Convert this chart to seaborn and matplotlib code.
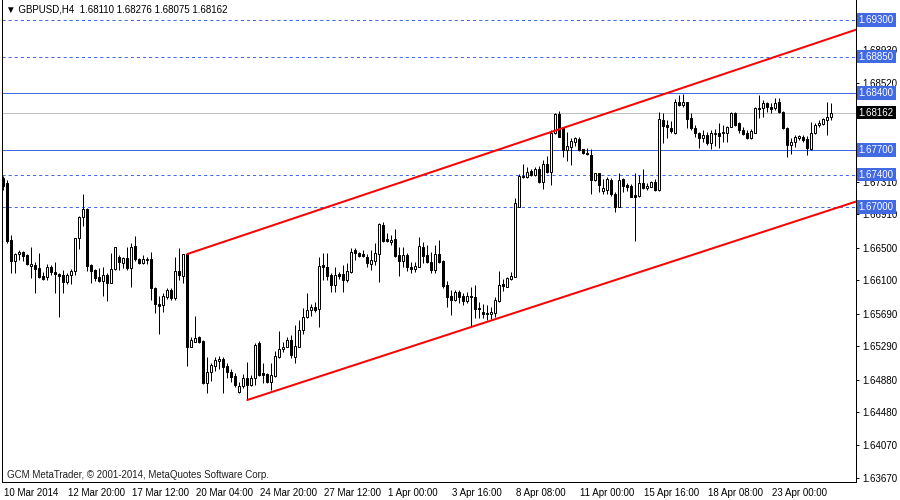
import numpy as np
import pandas as pd
import matplotlib
matplotlib.use('Agg')
import matplotlib.pyplot as plt
import matplotlib.transforms as mtrans
import seaborn as sns

# ---- data: GBPUSD H4 candles ----
OPEN = [1.67358, 1.67296, 1.66595, 1.66338, 1.66423, 1.66447, 1.66411, 1.66276, 1.66289, 1.66252,
        1.66153, 1.66141, 1.66264, 1.66202, 1.66178, 1.66166, 1.66079, 1.66166, 1.66215, 1.66620,
        1.66878, 1.66976, 1.66289, 1.66227, 1.66141, 1.66092, 1.66166, 1.66067, 1.66239, 1.66386,
        1.66313, 1.66374, 1.66252, 1.66521, 1.66362, 1.66313, 1.66350, 1.66362, 1.66006, 1.65809,
        1.65796, 1.65895, 1.65981, 1.65883, 1.66215, 1.66153, 1.66423, 1.65280, 1.65341, 1.65403,
        1.65354, 1.64838, 1.64973, 1.65047, 1.65109, 1.65133, 1.65047, 1.64973, 1.64924, 1.64727,
        1.64801, 1.64900, 1.64814, 1.64900, 1.65329, 1.64961, 1.64949, 1.64851, 1.64924, 1.65157,
        1.65256, 1.65280, 1.65366, 1.65157, 1.65280, 1.65489, 1.65649, 1.65735, 1.65772, 1.65747,
        1.66289, 1.66264, 1.66166, 1.66043, 1.66178, 1.66178, 1.66104, 1.66202, 1.66472, 1.66435,
        1.66423, 1.66386, 1.66301, 1.66338, 1.66423, 1.66779, 1.66607, 1.66570, 1.66607, 1.66411,
        1.66338, 1.66411, 1.66264, 1.66239, 1.66264, 1.66509, 1.66411, 1.66325, 1.66227, 1.66423,
        1.66338, 1.66043, 1.65907, 1.65858, 1.65956, 1.65907, 1.65846, 1.65907, 1.65895, 1.65760,
        1.65710, 1.65698, 1.65686, 1.65698, 1.65846, 1.66055, 1.66018, 1.66116, 1.66141, 1.67001,
        1.67382, 1.67370, 1.67444, 1.67395, 1.67468, 1.67309, 1.67530, 1.67431, 1.67910, 1.68144,
        1.67972, 1.67702, 1.67739, 1.67800, 1.67837, 1.67714, 1.67665, 1.67640, 1.67333, 1.67419,
        1.67198, 1.67210, 1.67333, 1.67161, 1.67001, 1.67346, 1.67272, 1.67259, 1.67149, 1.67137,
        1.67296, 1.67235, 1.67247, 1.67309, 1.67210, 1.68070, 1.68009, 1.67972, 1.67910, 1.68291,
        1.68255, 1.68291, 1.68095, 1.67972, 1.67910, 1.67849, 1.67886, 1.67788, 1.67898, 1.67910,
        1.67910, 1.67910, 1.67984, 1.68156, 1.68033, 1.67947, 1.67910, 1.67849, 1.67910, 1.68218,
        1.68218, 1.68279, 1.68230, 1.68218, 1.68291, 1.68168, 1.67972, 1.67763, 1.67800, 1.67849,
        1.67861, 1.67837, 1.67714, 1.67910, 1.68009, 1.68021, 1.68070, 1.68110]
HIGH = [1.67382, 1.67333, 1.66657, 1.66435, 1.66472, 1.66460, 1.66423, 1.66509, 1.66325, 1.66435,
        1.66202, 1.66301, 1.66289, 1.66325, 1.66190, 1.66227, 1.66190, 1.66239, 1.66620, 1.66890,
        1.67161, 1.66989, 1.66301, 1.66239, 1.66252, 1.66264, 1.66190, 1.66435, 1.66509, 1.66411,
        1.66386, 1.66509, 1.66558, 1.66644, 1.66374, 1.66411, 1.66386, 1.66447, 1.66018, 1.65907,
        1.65944, 1.66006, 1.66006, 1.66386, 1.66497, 1.66423, 1.66423, 1.65403, 1.65661, 1.65415,
        1.65366, 1.65157, 1.65084, 1.65157, 1.65170, 1.65157, 1.65084, 1.65010, 1.64961, 1.64851,
        1.64949, 1.65096, 1.64937, 1.65329, 1.65354, 1.65084, 1.64961, 1.65084, 1.65231, 1.65477,
        1.65341, 1.65403, 1.65428, 1.65551, 1.65612, 1.65760, 1.65944, 1.65809, 1.65833, 1.66386,
        1.66435, 1.66435, 1.66190, 1.66264, 1.66202, 1.66289, 1.66313, 1.66497, 1.66497, 1.66447,
        1.66472, 1.66423, 1.66472, 1.66558, 1.66804, 1.66816, 1.66681, 1.66657, 1.66730, 1.66509,
        1.66509, 1.66435, 1.66325, 1.66325, 1.66632, 1.66570, 1.66534, 1.66447, 1.66534, 1.66595,
        1.66350, 1.66092, 1.65981, 1.65981, 1.65981, 1.65944, 1.65956, 1.66018, 1.66043, 1.65833,
        1.65809, 1.65796, 1.65772, 1.65895, 1.66215, 1.66116, 1.66141, 1.66202, 1.67111, 1.67407,
        1.67530, 1.67493, 1.67468, 1.67493, 1.67505, 1.67579, 1.67628, 1.67947, 1.68156, 1.68181,
        1.67984, 1.67923, 1.67849, 1.67861, 1.67861, 1.67714, 1.67726, 1.67714, 1.67419, 1.67419,
        1.67346, 1.67370, 1.67358, 1.67186, 1.67419, 1.67358, 1.67296, 1.67284, 1.67419, 1.67395,
        1.67468, 1.67296, 1.67321, 1.67346, 1.68168, 1.68156, 1.68070, 1.68058, 1.68328, 1.68377,
        1.68390, 1.68291, 1.68156, 1.68009, 1.67923, 1.67947, 1.67923, 1.67947, 1.67960, 1.68033,
        1.68009, 1.67996, 1.68168, 1.68168, 1.68046, 1.67984, 1.67947, 1.67960, 1.68230, 1.68377,
        1.68316, 1.68291, 1.68279, 1.68340, 1.68340, 1.68181, 1.67984, 1.67849, 1.67886, 1.67886,
        1.67886, 1.67874, 1.68046, 1.68033, 1.68070, 1.68095, 1.68291, 1.68276]
LOW = [1.67210, 1.66558, 1.66190, 1.66190, 1.66350, 1.66338, 1.66289, 1.66129, 1.65944, 1.66129,
       1.66104, 1.66104, 1.66166, 1.65944, 1.65649, 1.65944, 1.66055, 1.66055, 1.66166, 1.66484,
       1.66767, 1.66215, 1.66067, 1.66092, 1.66079, 1.65907, 1.65846, 1.66067, 1.66227, 1.66227,
       1.66252, 1.66227, 1.66018, 1.66338, 1.66301, 1.66301, 1.66301, 1.65858, 1.65698, 1.65440,
       1.65710, 1.65870, 1.65858, 1.65858, 1.66104, 1.66067, 1.65047, 1.65280, 1.65341, 1.65329,
       1.64826, 1.64715, 1.64863, 1.64986, 1.65010, 1.64715, 1.64900, 1.64851, 1.64789, 1.64715,
       1.64777, 1.64629, 1.64801, 1.64814, 1.64924, 1.64838, 1.64838, 1.64752, 1.64912, 1.65145,
       1.65219, 1.65280, 1.65145, 1.65084, 1.65280, 1.65440, 1.65637, 1.65661, 1.65710, 1.65526,
       1.66104, 1.66104, 1.65956, 1.65956, 1.66116, 1.65956, 1.66079, 1.66190, 1.66350, 1.66386,
       1.66386, 1.66264, 1.66227, 1.66289, 1.66079, 1.66570, 1.66570, 1.66534, 1.66386, 1.66153,
       1.66264, 1.66215, 1.66190, 1.66202, 1.66264, 1.66313, 1.66313, 1.66190, 1.66190, 1.66313,
       1.66006, 1.65772, 1.65673, 1.65846, 1.65821, 1.65796, 1.65821, 1.65526, 1.65637, 1.65637,
       1.65637, 1.65612, 1.65624, 1.65649, 1.65833, 1.65969, 1.66018, 1.66104, 1.66141, 1.67001,
       1.67358, 1.67358, 1.67382, 1.67382, 1.67296, 1.67222, 1.67419, 1.67272, 1.67898, 1.67861,
       1.67616, 1.67566, 1.67517, 1.67751, 1.67689, 1.67653, 1.67640, 1.67161, 1.67321, 1.67186,
       1.67161, 1.67161, 1.67137, 1.66939, 1.67001, 1.67186, 1.67198, 1.67124, 1.66583, 1.67124,
       1.67222, 1.67210, 1.67247, 1.67198, 1.67198, 1.67788, 1.67849, 1.67910, 1.67898, 1.68242,
       1.68230, 1.67972, 1.67947, 1.67861, 1.67726, 1.67800, 1.67763, 1.67714, 1.67751, 1.67726,
       1.67800, 1.67800, 1.67984, 1.67996, 1.67910, 1.67886, 1.67837, 1.67837, 1.67910, 1.68095,
       1.68107, 1.68168, 1.68156, 1.68193, 1.68156, 1.67960, 1.67616, 1.67653, 1.67739, 1.67824,
       1.67800, 1.67640, 1.67702, 1.67898, 1.67984, 1.68009, 1.67886, 1.68075]
CLOSE = [1.67259, 1.66583, 1.66338, 1.66423, 1.66447, 1.66398, 1.66301, 1.66301, 1.66239, 1.66141,
         1.66116, 1.66264, 1.66202, 1.66178, 1.66153, 1.66079, 1.66166, 1.66215, 1.66620, 1.66878,
         1.66976, 1.66276, 1.66215, 1.66129, 1.66092, 1.66166, 1.66067, 1.66239, 1.66509, 1.66325,
         1.66374, 1.66252, 1.66509, 1.66362, 1.66313, 1.66362, 1.66362, 1.66006, 1.65809, 1.65784,
         1.65907, 1.65981, 1.65883, 1.66215, 1.66166, 1.66423, 1.65280, 1.65366, 1.65391, 1.65341,
         1.64838, 1.64973, 1.65059, 1.65121, 1.65133, 1.65035, 1.64973, 1.64912, 1.64814, 1.64801,
         1.64900, 1.64814, 1.64900, 1.65305, 1.64937, 1.64937, 1.64851, 1.64937, 1.65170, 1.65256,
         1.65280, 1.65366, 1.65182, 1.65292, 1.65489, 1.65649, 1.65735, 1.65772, 1.65735, 1.66276,
         1.66264, 1.66153, 1.66043, 1.66166, 1.66153, 1.66104, 1.66215, 1.66447, 1.66435, 1.66398,
         1.66398, 1.66313, 1.66350, 1.66435, 1.66792, 1.66583, 1.66583, 1.66595, 1.66398, 1.66338,
         1.66411, 1.66264, 1.66239, 1.66276, 1.66521, 1.66398, 1.66325, 1.66227, 1.66423, 1.66325,
         1.66030, 1.65895, 1.65858, 1.65956, 1.65895, 1.65846, 1.65907, 1.65895, 1.65747, 1.65747,
         1.65686, 1.65686, 1.65710, 1.65858, 1.66043, 1.66030, 1.66129, 1.66153, 1.67050, 1.67382,
         1.67370, 1.67431, 1.67395, 1.67468, 1.67309, 1.67530, 1.67431, 1.67910, 1.68144, 1.67861,
         1.67702, 1.67751, 1.67812, 1.67849, 1.67702, 1.67665, 1.67653, 1.67333, 1.67419, 1.67272,
         1.67235, 1.67346, 1.67161, 1.67001, 1.67333, 1.67259, 1.67247, 1.67124, 1.67124, 1.67296,
         1.67235, 1.67259, 1.67309, 1.67210, 1.68082, 1.67996, 1.67984, 1.67935, 1.68291, 1.68255,
         1.68291, 1.68082, 1.67972, 1.67910, 1.67849, 1.67886, 1.67788, 1.67910, 1.67910, 1.67874,
         1.67923, 1.67984, 1.68156, 1.68009, 1.67947, 1.67898, 1.67849, 1.67935, 1.68218, 1.68205,
         1.68279, 1.68230, 1.68205, 1.68279, 1.68168, 1.67972, 1.67763, 1.67800, 1.67861, 1.67874,
         1.67824, 1.67726, 1.67910, 1.68009, 1.68033, 1.68082, 1.68107, 1.68162]

# channel trend lines: (bar index, price) anchors
UPPER_BARS, UPPER_PRICES = [46, 214], [1.66423, 1.69194]
LOWER_BARS, LOWER_PRICES = [61, 214], [1.64629, 1.67081]

# horizontal levels
LEVELS = [1.69300, 1.68850, 1.68400, 1.67700, 1.67400, 1.67000]
LEVEL_DASHED = [True, True, False, False, True, True]

# axes (the scale values hidden under the level boxes are left out)
PRICE_TICKS = [1.63670, 1.64070, 1.64480, 1.64880, 1.65290, 1.65690, 1.66100,
               1.66500, 1.66910, 1.67310, 1.68520, 1.68930]
TIME_BARS = [0, 16, 32, 48, 64, 80, 96, 112, 128, 144, 160, 176, 192]
TIME_LABELS = ['10 Mar 2014', '12 Mar 20:00', '17 Mar 12:00', '20 Mar 04:00', '24 Mar 20:00',
               '27 Mar 12:00', '1 Apr 00:00', '3 Apr 16:00', '8 Apr 08:00', '11 Apr 00:00',
               '15 Apr 16:00', '18 Apr 08:00', '23 Apr 00:00']

df = pd.DataFrame({'open': OPEN, 'high': HIGH, 'low': LOW, 'close': CLOSE})
df['bar'] = np.arange(len(df))
df['bull'] = df['close'] >= df['open']

# ---- style ----
BLUE, RED, SILVER = '#4169E1', '#FF0000', '#C0C0C0'
FS = 7
sns.set_style('white')
plt.rcParams['font.family'] = ['Liberation Sans', 'DejaVu Sans']
plt.rcParams['lines.scale_dashes'] = False
PX = 0.72  # one pixel in points at dpi 100

fig = plt.figure(figsize=(9, 5), dpi=100)
ax = fig.add_axes([2/900, 18/500, 854/900, 482/500])
ax.set_xlim(-0.325, 213.175)
ax.set_ylim(1.63621, 1.69545)

# levels
for lv, dashed in zip(LEVELS, LEVEL_DASHED):
    ax.axhline(lv, color=BLUE, lw=PX, ls=(0, (2.2, 2.2)) if dashed else '-', zorder=1)
ax.axhline(df['close'].iloc[-1], color=SILVER, lw=PX, zorder=1)

# candles
ax.vlines(df['bar'], df['low'], df['high'], color='black', lw=PX, zorder=2)
body_lo = df[['open', 'close']].min(axis=1)
body_h = (df['close'] - df['open']).abs().clip(lower=1e-6)
ax.bar(df['bar'], body_h, bottom=body_lo, width=0.55,
       color=np.where(df['bull'], 'white', 'black'), edgecolor='black', linewidth=PX, zorder=3)

# channel
sns.lineplot(x=UPPER_BARS, y=UPPER_PRICES, color=RED, lw=2 * PX, ax=ax, zorder=4)
sns.lineplot(x=LOWER_BARS, y=LOWER_PRICES, color=RED, lw=2 * PX, ax=ax, zorder=4)

# axes frame + ticks
for s in ['left', 'right', 'bottom']:
    ax.spines[s].set_color('black')
    ax.spines[s].set_linewidth(PX)
ax.spines['top'].set_visible(False)
ax.yaxis.tick_right()
ax.set_yticks(PRICE_TICKS)
ax.set_yticklabels([f'{t:.5f}' for t in PRICE_TICKS])
ax.set_xticks(TIME_BARS)
ax.set_xticklabels(TIME_LABELS, ha='left')
ax.tick_params(axis='both', direction='out', length=2.5, width=PX, color='black',
               labelsize=FS, labelcolor='black', pad=2)
shift = mtrans.ScaledTranslation(1/100, 0, fig.dpi_scale_trans)
for lab in ax.get_xticklabels():
    lab.set_transform(lab.get_transform() + shift)
ax.set_xlabel('')
ax.set_ylabel('')

# price boxes on the right scale
bt = mtrans.blended_transform_factory(ax.transAxes, ax.transData)
for lv in LEVELS:
    ax.text(1.003, lv, f'{lv:.5f}', transform=bt, ha='left', va='center', fontsize=FS,
            color='white', zorder=6, clip_on=False,
            bbox=dict(boxstyle='square,pad=0.2', fc=BLUE, ec='none'))
ax.text(1.003, df['close'].iloc[-1], f"{df['close'].iloc[-1]:.5f}", transform=bt, ha='left',
        va='center', fontsize=FS, color='white', zorder=6, clip_on=False,
        bbox=dict(boxstyle='square,pad=0.2', fc='black', ec='none'))

# header and footer text
last = df.iloc[-1]
fig.text(6/900, 1 - 10/500,
         f"\u25BC GBPUSD,H4  {last.open:.5f} {last.high:.5f} {last.low:.5f} {last.close:.5f}",
         fontsize=FS, va='center', ha='left', color='black')
fig.text(7/900, 1 - 475/500, 'GCM MetaTrader, \u00A9 2001-2014, MetaQuotes Software Corp.',
         fontsize=FS, va='center', ha='left', color='#202020')

plt.savefig('out.png', dpi=100)
